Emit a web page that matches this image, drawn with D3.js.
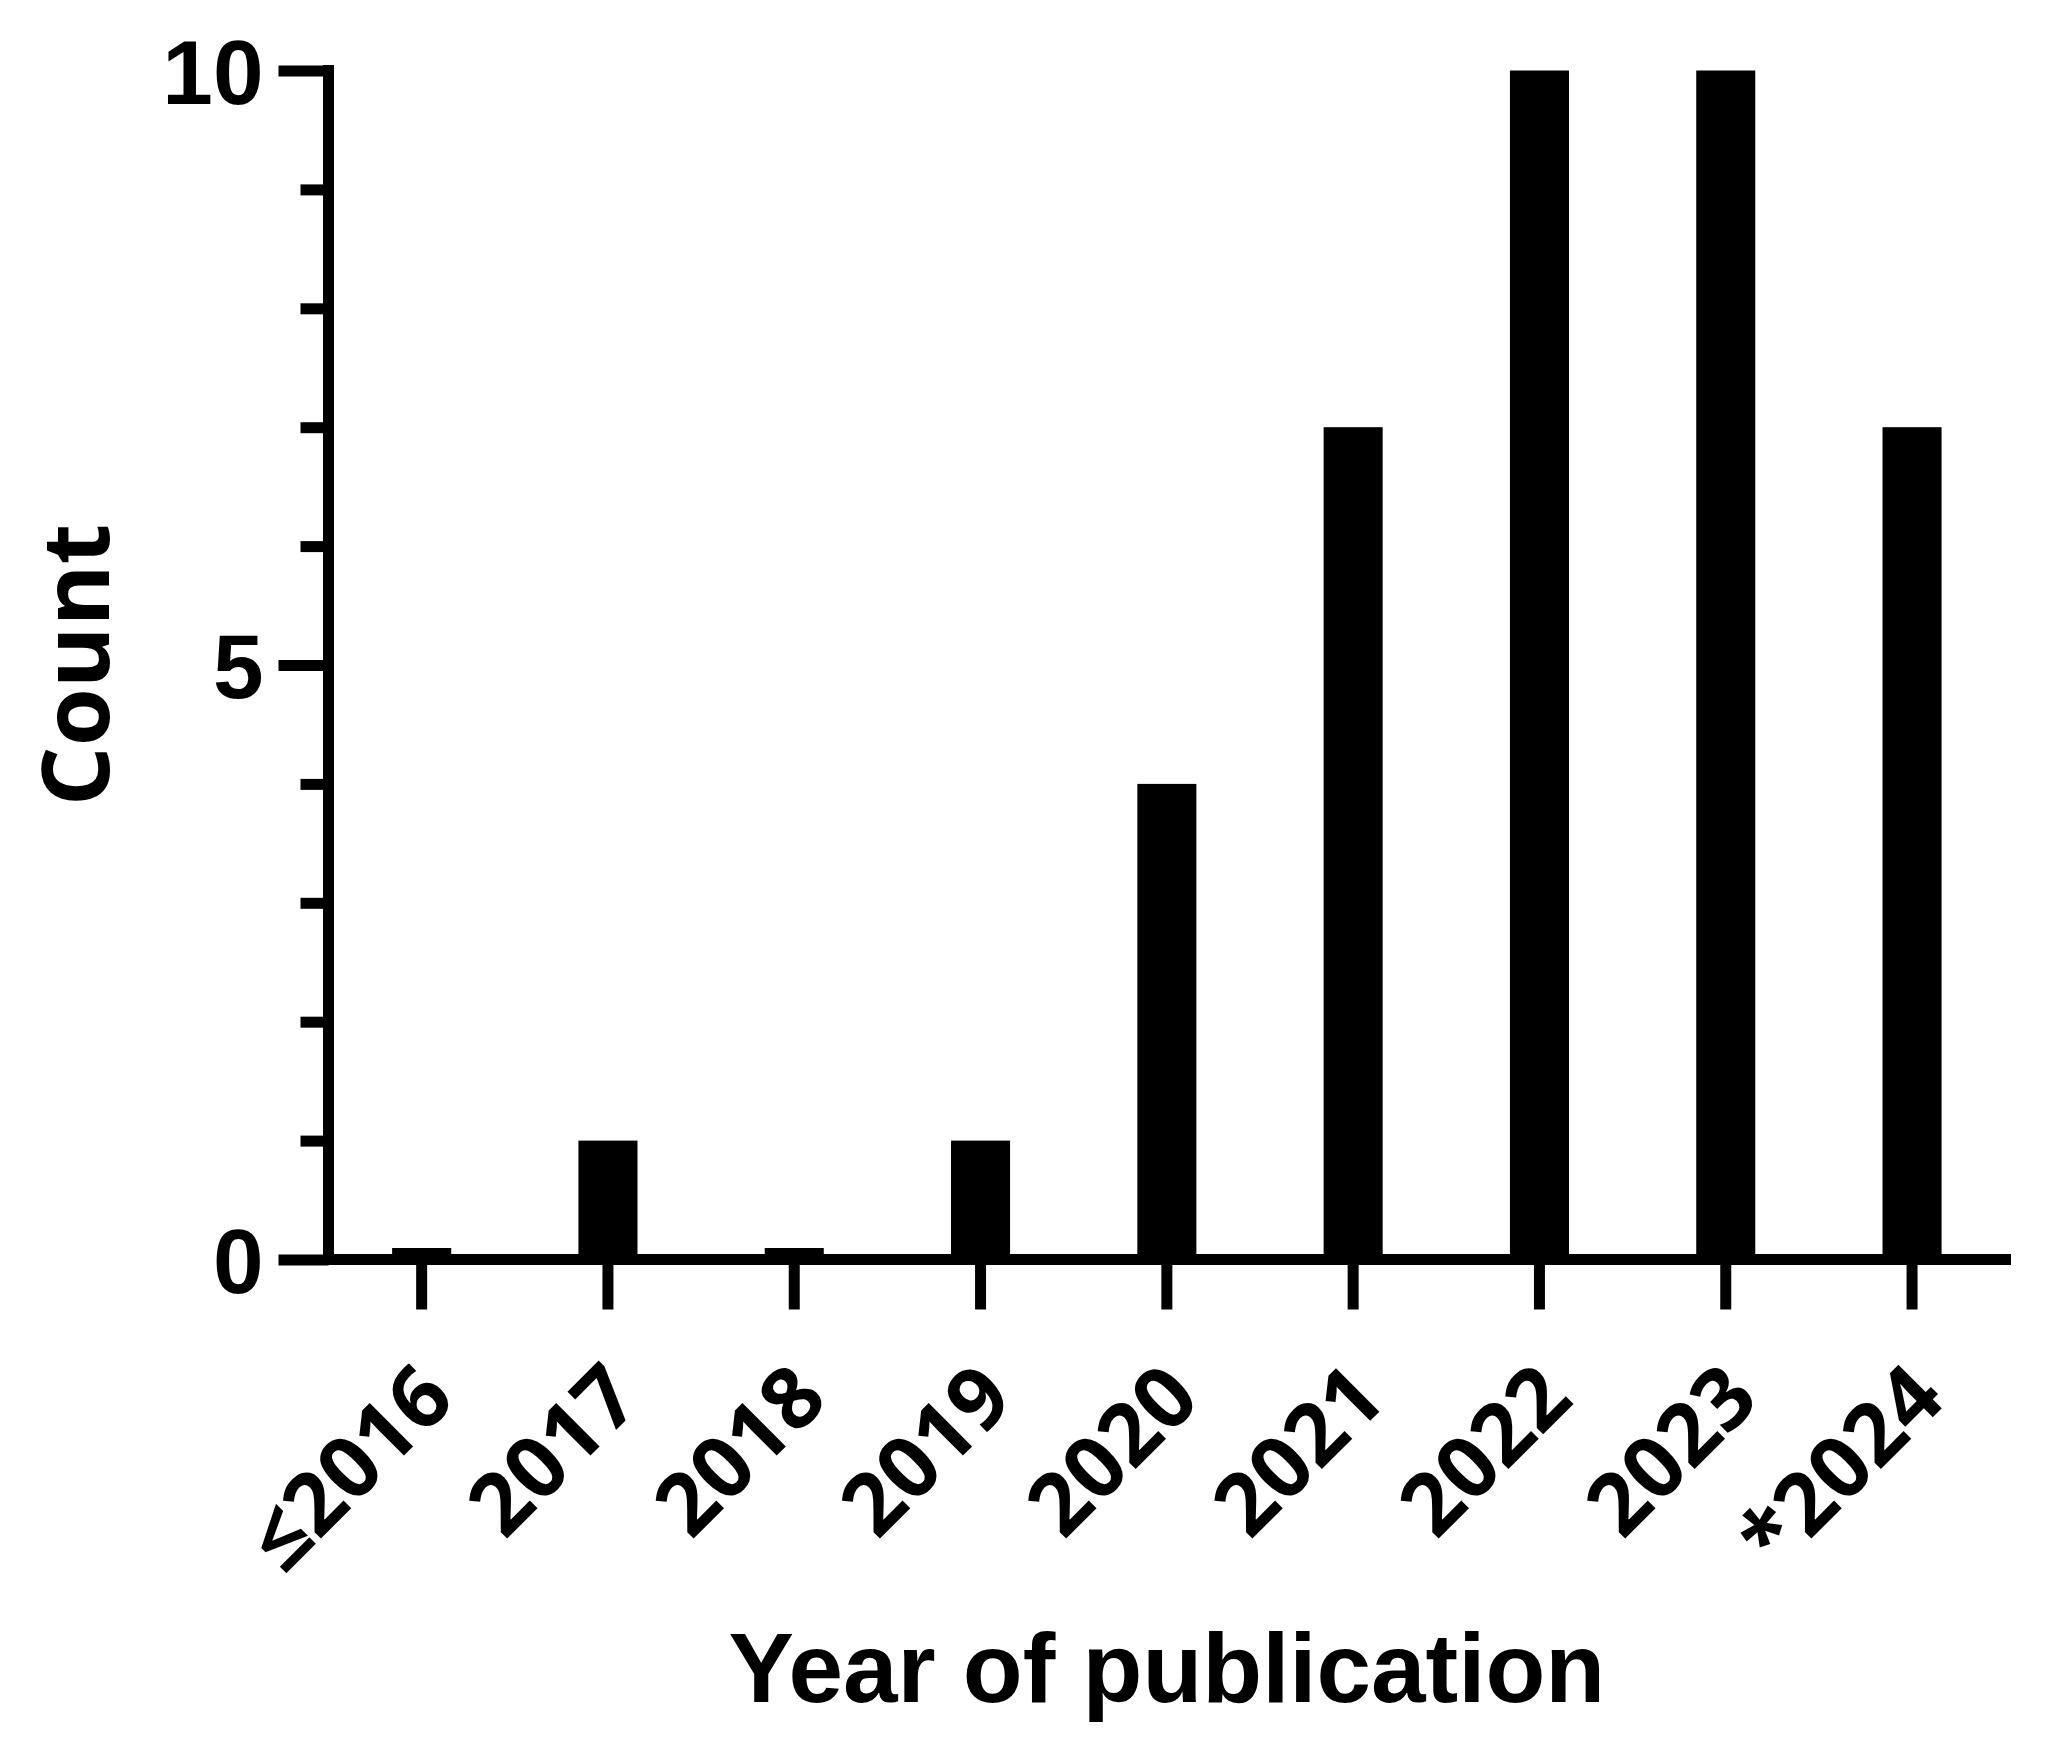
<!DOCTYPE html>
<html>
<head>
<meta charset="utf-8">
<script src="https://cdn.jsdelivr.net/npm/d3@7"></script>
<style>
  body { margin: 0; background: #fff; }
  svg { display: block; }
</style>
</head>
<body>
<script>
// chart data
var years = ["\u22642016", "2017", "2018", "2019", "2020", "2021", "2022", "2023", "*2024"];
var counts = [0, 1, 0, 1, 4, 7, 10, 10, 7];
var yMajorTicks = [0, 5, 10];
var yMinorTicks = [1, 2, 3, 4, 6, 7, 8, 9];

var W = 2049, H = 1759;
var axisX = 328.5, axisY = 1259.5, topY = 70.5, rightEnd = 2011;
var lw = 11;

var svg = d3.select("body").append("svg")
    .attr("width", W)
    .attr("height", H);
svg.append("rect").attr("width", W).attr("height", H).attr("fill", "#fff");

var x = d3.scaleBand()
    .domain(years)
    .range([axisX, axisX + 9 * 186.3])
    .paddingInner(0.683)
    .paddingOuter(0.3415);

var y = d3.scaleLinear()
    .domain([0, 10])
    .range([axisY, topY]);

// bars (empty years still show a thin sliver like the original)
svg.append("g").selectAll("rect")
    .data(counts)
    .enter().append("rect")
    .attr("x", function (d, i) { return x(years[i]); })
    .attr("width", x.bandwidth())
    .attr("y", function (d) { return Math.min(y(d), axisY - 11.5); })
    .attr("height", function (d) { return axisY - Math.min(y(d), axisY - 11.5); })
    .attr("fill", "#000");

// y axis, minor ticks
var gMinor = svg.append("g")
    .attr("transform", "translate(" + axisX + ",0)")
    .call(d3.axisLeft(y).tickValues(yMinorTicks).tickSize(28).tickFormat(""));
gMinor.select(".domain").remove();

// y axis, major ticks + labels
var gy = svg.append("g")
    .attr("transform", "translate(" + axisX + ",0)")
    .call(d3.axisLeft(y).tickValues(yMajorTicks).tickSize(50).tickSizeOuter(0).tickPadding(15));
gy.select(".domain").remove();
gy.selectAll("text")
    .attr("dy", "0.36em")
    .style("font-family", "'Liberation Sans', Arial, sans-serif")
    .style("font-weight", "bold")
    .style("font-size", "91px")
    .attr("fill", "#000");

svg.selectAll(".tick line")
    .attr("stroke", "#000")
    .attr("stroke-width", lw);

// y axis line
svg.append("line")
    .attr("x1", axisX).attr("x2", axisX)
    .attr("y1", y(10) - lw / 2).attr("y2", axisY + lw / 2)
    .attr("stroke", "#000").attr("stroke-width", lw);

// x axis
var gx = svg.append("g")
    .attr("transform", "translate(0," + axisY + ")")
    .call(d3.axisBottom(x).tickSize(50).tickSizeOuter(0));
gx.select(".domain").remove();
gx.selectAll(".tick line")
    .attr("stroke", "#000")
    .attr("stroke-width", lw);
gx.selectAll("text")
    .attr("y", null)
    .attr("dy", null)
    .attr("text-anchor", "end")
    .attr("transform", "translate(36," + (1402 - axisY) + ") rotate(-45)")
    .style("font-family", "'Open Sans', sans-serif")
    .style("font-weight", "bold")
    .style("font-size", "86px")
    .attr("fill", "#000");

svg.append("line")
    .attr("x1", axisX).attr("x2", rightEnd)
    .attr("y1", axisY).attr("y2", axisY)
    .attr("stroke", "#000").attr("stroke-width", lw);

// axis titles
svg.append("text")
    .attr("x", (axisX + axisX + 9 * 186.3) / 2)
    .attr("y", 1702)
    .attr("text-anchor", "middle")
    .style("font-family", "'Liberation Sans', Arial, sans-serif")
    .style("font-weight", "bold")
    .style("font-size", "98px")
    .text("Year of publication");

svg.append("text")
    .attr("transform", "translate(109," + ((topY + axisY) / 2) + ") rotate(-90)")
    .attr("text-anchor", "middle")
    .style("font-family", "'Open Sans', sans-serif")
    .style("font-weight", "bold")
    .style("font-size", "94px")
    .text("Count");
</script>
</body>
</html>
